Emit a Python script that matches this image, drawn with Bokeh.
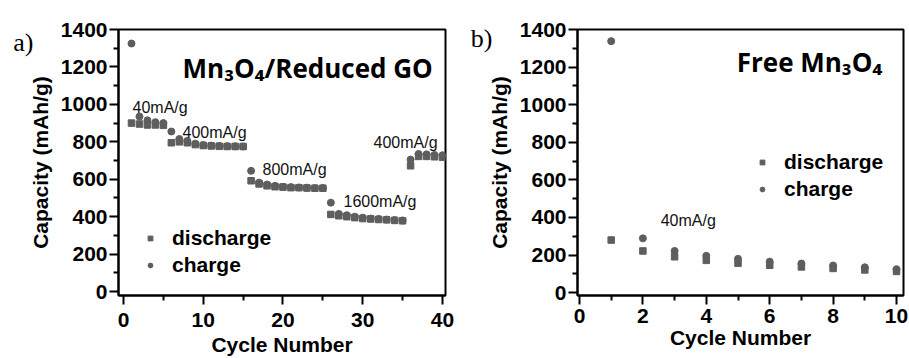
from bokeh.plotting import figure
from bokeh.layouts import row
from bokeh.models import Range1d, Label, Legend, LegendItem, FixedTicker, LinearAxis
from bokeh.embed import file_html
from bokeh.resources import INLINE

# ---------------- data ----------------
cycles_a = list(range(1, 41))
discharge_a = [900, 895, 890, 890, 888,
               795, 800, 795, 785, 780, 778, 776, 775, 775, 775,
               592, 575, 565, 560, 558, 555, 555, 553, 552, 552,
               412, 405, 400, 395, 390, 388, 385, 383, 380, 378,
               672, 722, 722, 720, 718]
charge_a = [1325, 935, 915, 905, 900,
            855, 815, 805, 790, 783, 780, 778, 777, 776, 775,
            645, 582, 572, 565, 560, 558, 556, 555, 553, 553,
            475, 415, 408, 400, 395, 390, 388, 385, 382, 380,
            705, 735, 733, 730, 728]

cycles_b = list(range(1, 11))
discharge_b = [280, 222, 191, 172, 157, 146, 137, 129, 121, 113]
charge_b = [1338, 289, 222, 196, 180, 165, 155, 145, 135, 125]

rates_a = ["40mA/g", "400mA/g", "800mA/g", "1600mA/g", "400mA/g"]
rates_b = ["40mA/g"]

y_ticks = [0, 200, 400, 600, 800, 1000, 1200, 1400]
y_minor = [100, 300, 500, 700, 900, 1100, 1300]
x_ticks_a = [0, 10, 20, 30, 40]
x_minor_a = [5, 15, 25, 35]
x_ticks_b = [0, 2, 4, 6, 8, 10]
x_minor_b = [1, 3, 5, 7, 9]

# annotation placement (data coordinates)
rate_pos_a = [(1.13, 984), (7.4, 849), (17.43, 651), (27.59, 479), (31.35, 796)]
rate_pos_b = [(2.56, 382)]

MARK = "#5e5e5e"
SANS = "Liberation Sans"


def make_fig(width, xr, yr, top, bottom, left, right, xticks, xminor, xstand, xlabstand):
    p = figure(width=width, height=358, x_range=Range1d(*xr), y_range=Range1d(*yr),
               output_backend="svg", toolbar_location=None,
               min_border_left=left, min_border_right=right,
               min_border_top=top, min_border_bottom=bottom)
    p.grid.visible = False
    p.outline_line_color = "black"
    p.outline_line_width = 2
    p.background_fill_color = "white"
    p.border_fill_color = "white"
    p.xaxis.ticker = FixedTicker(ticks=xticks, minor_ticks=xminor)
    p.yaxis.ticker = FixedTicker(ticks=y_ticks, minor_ticks=y_minor)
    for ax in (p.xaxis[0], p.yaxis[0]):
        ax.axis_line_width = 2
        ax.axis_line_color = "black"
        ax.major_tick_line_width = 2
        ax.minor_tick_line_width = 2
        ax.major_tick_out = 9
        ax.major_tick_in = 0
        ax.minor_tick_out = 5
        ax.minor_tick_in = 0
        ax.major_label_text_font = SANS
        ax.major_label_text_font_style = "bold"
        ax.major_label_text_font_size = "21px"
        ax.major_label_text_color = "black"
        ax.axis_label_text_font = SANS
        ax.axis_label_text_font_style = "bold"
        ax.axis_label_text_font_size = "21px"
        ax.axis_label_text_color = "black"
    p.xaxis.major_label_standoff = xstand
    p.xaxis.axis_label_standoff = xlabstand
    p.yaxis.major_label_standoff = 2
    p.yaxis.axis_label_standoff = 6
    p.xaxis.axis_label = "Cycle Number"
    p.yaxis.axis_label = "Capacity (mAh/g)"
    return p


def add_panel_tag(p, tag, ypos):
    ax = LinearAxis(ticker=FixedTicker(ticks=[ypos]), major_label_overrides={ypos: tag},
                    axis_line_color=None, major_tick_line_color=None,
                    minor_tick_line_color=None, major_tick_out=0, major_tick_in=0,
                    minor_tick_out=0, minor_tick_in=0, major_label_standoff=-8,
                    major_label_text_font="Liberation Serif",
                    major_label_text_font_size="26px", major_label_text_color="black")
    p.add_layout(ax, "left")


def add_series(p, cyc, dis, chg, loc):
    rd = p.scatter(cyc, dis, marker="square", size=6.5, color=MARK)
    rc = p.scatter(cyc, chg, marker="circle", size=7, color=MARK)
    leg = Legend(items=[LegendItem(label="discharge", renderers=[rd]),
                        LegendItem(label="charge", renderers=[rc])],
                 location=loc, border_line_color=None, background_fill_alpha=0,
                 padding=0, margin=0, spacing=3, glyph_width=12, glyph_height=20,
                 label_height=20, label_standoff=16,
                 label_text_font=SANS, label_text_font_style="bold",
                 label_text_font_size="21px", label_text_color="black")
    p.add_layout(leg)


def add_rates(p, names, pos):
    for name, (x, y) in zip(names, pos):
        p.add_layout(Label(x=x, y=y, text=name, text_font=SANS, text_font_size="16px",
                           text_color="#111111", text_baseline="alphabetic"))


# ---------------- panel a ----------------
pa = make_fig(460, (-0.63, 40.38), (-21, 1400), 24, 61, 118, 15, x_ticks_a, x_minor_a, 8, 3)
add_series(pa, cycles_a, discharge_a, charge_a, (26, 18))
add_rates(pa, rates_a, rate_pos_a)
pa.add_layout(Label(x=7.4, y=1197, text="Mn\u2083O\u2084/Reduced GO", text_font="Open Sans",
                    text_font_style="bold", text_font_size="26px", text_color="black",
                    text_baseline="alphabetic"))
add_panel_tag(pa, "a)", 1330)

# ---------------- panel b ----------------
pb = make_fig(449, (-0.063, 10.22), (-15, 1400), 29, 55, 117, 6, x_ticks_b, x_minor_b, 4, 0)
add_series(pb, cycles_b, discharge_b, charge_b, (179, 94))
add_rates(pb, rates_b, rate_pos_b)
pb.add_layout(Label(x=9.55, y=1225, text="Free Mn\u2083O\u2084", text_font="Open Sans",
                    text_font_style="bold", text_font_size="26px", text_color="black",
                    text_align="right", text_baseline="alphabetic"))
add_panel_tag(pb, "b)", 1354)

layout = row(pa, pb)
open("out.html", "w").write(file_html(layout, INLINE))
